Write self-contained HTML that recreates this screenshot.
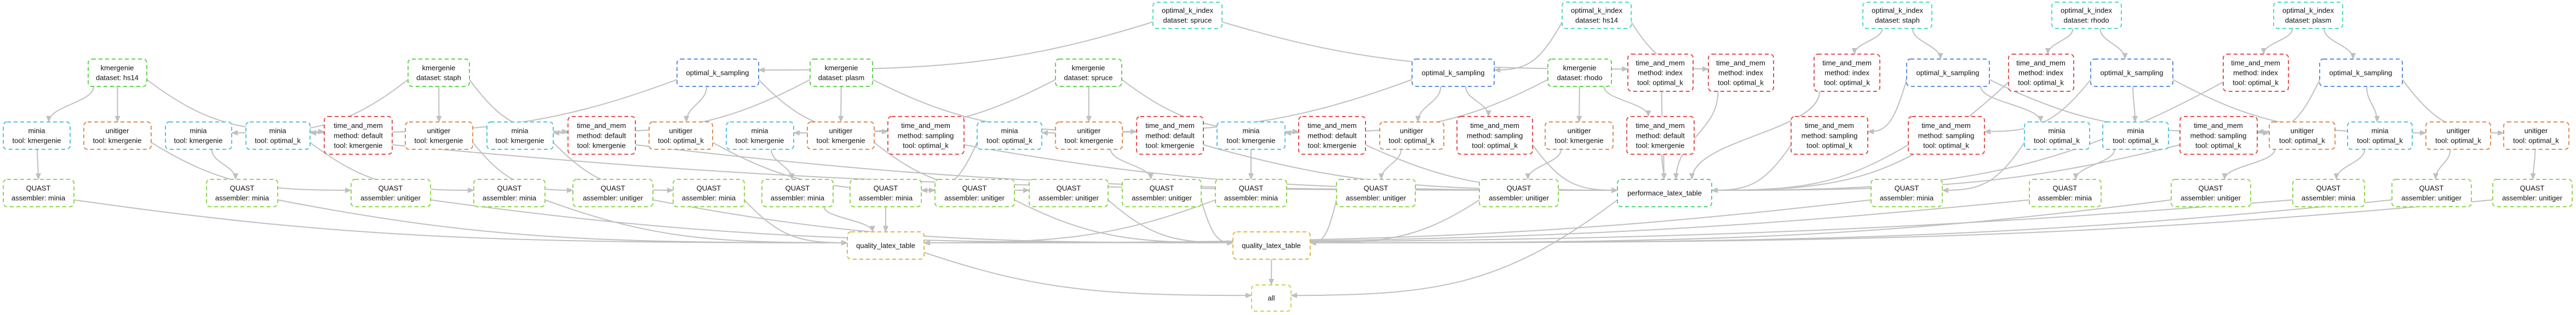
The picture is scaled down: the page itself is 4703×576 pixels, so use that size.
<!DOCTYPE html>
<html><head><meta charset="utf-8">
<style>
html,body{margin:0;padding:0;background:#fff;}
svg{display:block}
.n{fill:#fff;stroke-width:2;stroke-dasharray:7 5}
.idx{stroke:#52d9c0}.smp{stroke:#5b8ee0}.kmr{stroke:#5cd64a}.mia{stroke:#52c4e0}.uni{stroke:#e08d52}
.tam{stroke:#e05252}.qst{stroke:#8cd94a}.qlt{stroke:#dbb84a}.all{stroke:#c2d94a}.prf{stroke:#4ad97a}
text{font-family:"Liberation Sans",sans-serif;font-size:13px;text-anchor:middle;dominant-baseline:central;fill:#111}
#edges path{fill:none;stroke:#c0c0c0;stroke-width:2}
</style></head><body>
<svg id="s" width="4703" height="576" viewBox="0 0 4703 576" xmlns="http://www.w3.org/2000/svg">
<defs><marker id="ar" markerWidth="12" markerHeight="10" refX="11" refY="5" orient="auto" markerUnits="userSpaceOnUse"><path d="M0,0 L12,5 L0,10 z" fill="#c0c0c0"/></marker></defs>
<g id="edges"></g>
<g id="nodes">
<!-- Row A -->
<rect id="I1" class="n idx" x="2105" y="4" width="126" height="48" rx="7"/><text x="2168" y="19">optimal_k_index</text><text x="2168" y="37">dataset: spruce</text>
<rect id="I2" class="n idx" x="2852" y="4" width="126" height="48" rx="7"/><text x="2915" y="19">optimal_k_index</text><text x="2915" y="37">dataset: hs14</text>
<rect id="I3" class="n idx" x="3401" y="4" width="126" height="48" rx="7"/><text x="3464" y="19">optimal_k_index</text><text x="3464" y="37">dataset: staph</text>
<rect id="I4" class="n idx" x="3746" y="4" width="127" height="48" rx="7"/><text x="3809" y="19">optimal_k_index</text><text x="3809" y="37">dataset: rhodo</text>
<rect id="I5" class="n idx" x="4151" y="4" width="126" height="48" rx="7"/><text x="4214" y="19">optimal_k_index</text><text x="4214" y="37">dataset: plasm</text>
<!-- Row B -->
<rect id="K1" class="n kmr" x="161" y="108" width="107" height="50" rx="7"/><text x="214" y="124">kmergenie</text><text x="214" y="142">dataset: hs14</text>
<rect id="K2" class="n kmr" x="745" y="108" width="112" height="50" rx="7"/><text x="801" y="124">kmergenie</text><text x="801" y="142">dataset: staph</text>
<rect id="K3" class="n kmr" x="1479" y="108" width="114" height="50" rx="7"/><text x="1536" y="124">kmergenie</text><text x="1536" y="142">dataset: plasm</text>
<rect id="K4" class="n kmr" x="1927" y="108" width="121" height="50" rx="7"/><text x="1987" y="124">kmergenie</text><text x="1987" y="142">dataset: spruce</text>
<rect id="K5" class="n kmr" x="2826" y="108" width="116" height="50" rx="7"/><text x="2884" y="124">kmergenie</text><text x="2884" y="142">dataset: rhodo</text>
<rect id="S1" class="n smp" x="1236" y="108" width="149" height="50" rx="7"/><text x="1310" y="133">optimal_k_sampling</text>
<rect id="S2" class="n smp" x="2578" y="108" width="150" height="50" rx="7"/><text x="2653" y="133">optimal_k_sampling</text>
<rect id="S3" class="n smp" x="3481" y="108" width="151" height="50" rx="7"/><text x="3556" y="133">optimal_k_sampling</text>
<rect id="S4" class="n smp" x="3817" y="108" width="150" height="50" rx="7"/><text x="3892" y="133">optimal_k_sampling</text>
<rect id="S5" class="n smp" x="4235" y="108" width="151" height="50" rx="7"/><text x="4310" y="133">optimal_k_sampling</text>
<rect id="T1" class="n tam" x="2972" y="99" width="119" height="68" rx="7"/><text x="3031" y="115">time_and_mem</text><text x="3031" y="133">method: index</text><text x="3031" y="151">tool: optimal_k</text>
<rect id="T2" class="n tam" x="3119" y="99" width="119" height="68" rx="7"/><text x="3178" y="115">time_and_mem</text><text x="3178" y="133">method: index</text><text x="3178" y="151">tool: optimal_k</text>
<rect id="T3" class="n tam" x="3312" y="99" width="120" height="68" rx="7"/><text x="3372" y="115">time_and_mem</text><text x="3372" y="133">method: index</text><text x="3372" y="151">tool: optimal_k</text>
<rect id="T4" class="n tam" x="3667" y="99" width="119" height="68" rx="7"/><text x="3726" y="115">time_and_mem</text><text x="3726" y="133">method: index</text><text x="3726" y="151">tool: optimal_k</text>
<rect id="T5" class="n tam" x="4059" y="99" width="119" height="68" rx="7"/><text x="4118" y="115">time_and_mem</text><text x="4118" y="133">method: index</text><text x="4118" y="151">tool: optimal_k</text>
<!-- Row C -->
<rect id="C1" class="n mia" x="6" y="223" width="122" height="50" rx="7"/><text x="67" y="239">minia</text><text x="67" y="257">tool: kmergenie</text>
<rect id="C2" class="n uni" x="153" y="223" width="123" height="50" rx="7"/><text x="214" y="239">unitiger</text><text x="214" y="257">tool: kmergenie</text>
<rect id="C3" class="n mia" x="302" y="223" width="121" height="50" rx="7"/><text x="362" y="239">minia</text><text x="362" y="257">tool: kmergenie</text>
<rect id="C4" class="n mia" x="449" y="223" width="117" height="50" rx="7"/><text x="507" y="239">minia</text><text x="507" y="257">tool: optimal_k</text>
<rect id="C5" class="n tam" x="592" y="213" width="124" height="69" rx="7"/><text x="654" y="229.5">time_and_mem</text><text x="654" y="248">method: default</text><text x="654" y="266">tool: kmergenie</text>
<rect id="C6" class="n uni" x="740" y="223" width="123" height="50" rx="7"/><text x="801" y="239">unitiger</text><text x="801" y="257">tool: kmergenie</text>
<rect id="C7" class="n mia" x="889" y="223" width="121" height="50" rx="7"/><text x="949" y="239">minia</text><text x="949" y="257">tool: kmergenie</text>
<rect id="C8" class="n tam" x="1037" y="213" width="123" height="69" rx="7"/><text x="1098" y="229.5">time_and_mem</text><text x="1098" y="248">method: default</text><text x="1098" y="266">tool: kmergenie</text>
<rect id="C9" class="n uni" x="1185" y="223" width="116" height="50" rx="7"/><text x="1243" y="239">unitiger</text><text x="1243" y="257">tool: optimal_k</text>
<rect id="C10" class="n mia" x="1326" y="223" width="123" height="50" rx="7"/><text x="1387" y="239">minia</text><text x="1387" y="257">tool: kmergenie</text>
<rect id="C11" class="n uni" x="1474" y="223" width="122" height="50" rx="7"/><text x="1535" y="239">unitiger</text><text x="1535" y="257">tool: kmergenie</text>
<rect id="C12" class="n tam" x="1621" y="213" width="139" height="69" rx="7"/><text x="1690" y="229.5">time_and_mem</text><text x="1690" y="248">method: sampling</text><text x="1690" y="266">tool: optimal_k</text>
<rect id="C13" class="n mia" x="1784" y="223" width="118" height="50" rx="7"/><text x="1843" y="239">minia</text><text x="1843" y="257">tool: optimal_k</text>
<rect id="C14" class="n uni" x="1927" y="223" width="122" height="50" rx="7"/><text x="1988" y="239">unitiger</text><text x="1988" y="257">tool: kmergenie</text>
<rect id="C15" class="n tam" x="2075" y="213" width="122" height="69" rx="7"/><text x="2136" y="229.5">time_and_mem</text><text x="2136" y="248">method: default</text><text x="2136" y="266">tool: kmergenie</text>
<rect id="C16" class="n mia" x="2222" y="223" width="124" height="50" rx="7"/><text x="2284" y="239">minia</text><text x="2284" y="257">tool: kmergenie</text>
<rect id="C17" class="n tam" x="2371" y="213" width="122" height="69" rx="7"/><text x="2432" y="229.5">time_and_mem</text><text x="2432" y="248">method: default</text><text x="2432" y="266">tool: kmergenie</text>
<rect id="C18" class="n uni" x="2519" y="223" width="117" height="50" rx="7"/><text x="2577" y="239">unitiger</text><text x="2577" y="257">tool: optimal_k</text>
<rect id="C19" class="n tam" x="2660" y="213" width="138" height="69" rx="7"/><text x="2729" y="229.5">time_and_mem</text><text x="2729" y="248">method: sampling</text><text x="2729" y="266">tool: optimal_k</text>
<rect id="C20" class="n uni" x="2821" y="223" width="124" height="50" rx="7"/><text x="2883" y="239">unitiger</text><text x="2883" y="257">tool: kmergenie</text>
<rect id="C21" class="n tam" x="2970" y="213" width="123" height="69" rx="7"/><text x="3031" y="229.5">time_and_mem</text><text x="3031" y="248">method: default</text><text x="3031" y="266">tool: kmergenie</text>
<rect id="C22" class="n tam" x="3270" y="213" width="140" height="69" rx="7"/><text x="3340" y="229.5">time_and_mem</text><text x="3340" y="248">method: sampling</text><text x="3340" y="266">tool: optimal_k</text>
<rect id="C23" class="n tam" x="3484" y="213" width="139" height="69" rx="7"/><text x="3553" y="229.5">time_and_mem</text><text x="3553" y="248">method: sampling</text><text x="3553" y="266">tool: optimal_k</text>
<rect id="C24" class="n mia" x="3696" y="223" width="119" height="50" rx="7"/><text x="3755" y="239">minia</text><text x="3755" y="257">tool: optimal_k</text>
<rect id="C25" class="n mia" x="3839" y="223" width="120" height="50" rx="7"/><text x="3899" y="239">minia</text><text x="3899" y="257">tool: optimal_k</text>
<rect id="C26" class="n tam" x="3980" y="213" width="141" height="69" rx="7"/><text x="4050" y="229.5">time_and_mem</text><text x="4050" y="248">method: sampling</text><text x="4050" y="266">tool: optimal_k</text>
<rect id="C27" class="n uni" x="4143" y="223" width="120" height="50" rx="7"/><text x="4203" y="239">unitiger</text><text x="4203" y="257">tool: optimal_k</text>
<rect id="C28" class="n mia" x="4286" y="223" width="118" height="50" rx="7"/><text x="4345" y="239">minia</text><text x="4345" y="257">tool: optimal_k</text>
<rect id="C29" class="n uni" x="4429" y="223" width="118" height="50" rx="7"/><text x="4488" y="239">unitiger</text><text x="4488" y="257">tool: optimal_k</text>
<rect id="C30" class="n uni" x="4571" y="223" width="119" height="50" rx="7"/><text x="4630" y="239">unitiger</text><text x="4630" y="257">tool: optimal_k</text>
<!-- Row D -->
<rect id="Q1" class="n qst" x="6" y="328" width="129" height="50" rx="7"/><text x="70" y="344">QUAST</text><text x="70" y="362">assembler: minia</text>
<rect id="Q2" class="n qst" x="377" y="328" width="130" height="50" rx="7"/><text x="442" y="344">QUAST</text><text x="442" y="362">assembler: minia</text>
<rect id="Q3" class="n qst" x="641" y="328" width="145" height="50" rx="7"/><text x="713" y="344">QUAST</text><text x="713" y="362">assembler: unitiger</text>
<rect id="Q4" class="n qst" x="865" y="328" width="130" height="50" rx="7"/><text x="930" y="344">QUAST</text><text x="930" y="362">assembler: minia</text>
<rect id="Q5" class="n qst" x="1046" y="328" width="146" height="50" rx="7"/><text x="1119" y="344">QUAST</text><text x="1119" y="362">assembler: unitiger</text>
<rect id="Q6" class="n qst" x="1229" y="328" width="130" height="50" rx="7"/><text x="1294" y="344">QUAST</text><text x="1294" y="362">assembler: minia</text>
<rect id="Q7" class="n qst" x="1391" y="328" width="130" height="50" rx="7"/><text x="1456" y="344">QUAST</text><text x="1456" y="362">assembler: minia</text>
<rect id="Q8" class="n qst" x="1552" y="328" width="130" height="50" rx="7"/><text x="1617" y="344">QUAST</text><text x="1617" y="362">assembler: minia</text>
<rect id="Q9" class="n qst" x="1707" y="328" width="145" height="50" rx="7"/><text x="1779" y="344">QUAST</text><text x="1779" y="362">assembler: unitiger</text>
<rect id="Q10" class="n qst" x="1879" y="328" width="144" height="50" rx="7"/><text x="1951" y="344">QUAST</text><text x="1951" y="362">assembler: unitiger</text>
<rect id="Q11" class="n qst" x="2049" y="328" width="144" height="50" rx="7"/><text x="2121" y="344">QUAST</text><text x="2121" y="362">assembler: unitiger</text>
<rect id="Q12" class="n qst" x="2219" y="328" width="130" height="50" rx="7"/><text x="2284" y="344">QUAST</text><text x="2284" y="362">assembler: minia</text>
<rect id="Q13" class="n qst" x="2440" y="328" width="144" height="50" rx="7"/><text x="2512" y="344">QUAST</text><text x="2512" y="362">assembler: unitiger</text>
<rect id="Q14" class="n qst" x="2701" y="328" width="144" height="50" rx="7"/><text x="2773" y="344">QUAST</text><text x="2773" y="362">assembler: unitiger</text>
<rect id="P" class="n prf" x="2953" y="328" width="172" height="50" rx="7"/><text x="3039" y="353">performace_latex_table</text>
<rect id="Q15" class="n qst" x="3416" y="328" width="130" height="50" rx="7"/><text x="3481" y="344">QUAST</text><text x="3481" y="362">assembler: minia</text>
<rect id="Q16" class="n qst" x="3705" y="328" width="131" height="50" rx="7"/><text x="3770" y="344">QUAST</text><text x="3770" y="362">assembler: minia</text>
<rect id="Q17" class="n qst" x="3964" y="328" width="145" height="50" rx="7"/><text x="4036" y="344">QUAST</text><text x="4036" y="362">assembler: unitiger</text>
<rect id="Q18" class="n qst" x="4186" y="328" width="131" height="50" rx="7"/><text x="4251" y="344">QUAST</text><text x="4251" y="362">assembler: minia</text>
<rect id="Q19" class="n qst" x="4367" y="328" width="145" height="50" rx="7"/><text x="4439" y="344">QUAST</text><text x="4439" y="362">assembler: unitiger</text>
<rect id="Q20" class="n qst" x="4551" y="328" width="145" height="50" rx="7"/><text x="4623" y="344">QUAST</text><text x="4623" y="362">assembler: unitiger</text>
<!-- Row E/F -->
<rect id="L1" class="n qlt" x="1547" y="424" width="140" height="50" rx="7"/><text x="1617" y="449">quality_latex_table</text>
<rect id="L2" class="n qlt" x="2251" y="424" width="141" height="50" rx="7"/><text x="2321" y="449">quality_latex_table</text>
<rect id="ALL" class="n all" x="2285" y="521" width="72" height="48" rx="7"/><text x="2321" y="545">all</text>
</g>
</svg>
<script>
(function(){
var E=[
["I1","S1"],["I1","T1"],["I2","S2"],["I2","T2"],["I3","T3"],["I3","S3"],["I4","T4"],["I4","S4"],["I5","T5"],["I5","S5"],
["S1","C4"],["S1","C9"],["S1","C12"],["S2","C13"],["S2","C18"],["S2","C19"],["S3","C22"],["S3","C24"],["S3","C27"],
["S4","C23"],["S4","C25"],["S4","C29"],["S5","C26"],["S5","C28"],["S5","C30"],
["K1","C1"],["K1","C2"],["K1","C5"],["K2","C3"],["K2","C6"],["K2","C8"],["K3","C7"],["K3","C11"],["K3","C15"],
["K4","C10"],["K4","C14"],["K4","C17"],["K5","C16"],["K5","C20"],["K5","C21"],
["C1","Q1"],["C2","Q3"],["C3","Q2"],["C4","Q4"],["C6","Q5"],["C7","Q6"],["C9","Q9"],["C10","Q7"],["C11","Q10"],
["C13","Q8"],["C14","Q11"],["C16","Q12"],["C18","Q13"],["C20","Q14"],["C24","Q15"],["C25","Q16"],["C27","Q17"],
["C28","Q18"],["C29","Q19"],["C30","Q20"],
["C5","P"],["C8","P"],["C12","P"],["C15","P"],["C17","P"],["C19","P"],["C21","P"],["C22","P"],["C23","P"],["C26","P"],
["T1","P"],["T2","P"],["T3","P"],["T4","P"],["T5","P"],
["Q1","L1"],["Q2","L1"],["Q4","L1"],["Q6","L1"],["Q7","L1"],["Q8","L1"],["Q12","L1"],["Q15","L1"],["Q16","L1"],["Q18","L1"],
["Q3","L2"],["Q5","L2"],["Q9","L2"],["Q10","L2"],["Q11","L2"],["Q13","L2"],["Q14","L2"],["Q17","L2"],["Q19","L2"],["Q20","L2"],
["L1","ALL"],["L2","ALL"],["P","ALL"]];
function R(id){var r=document.getElementById(id);return {x:+r.getAttribute("x"),y:+r.getAttribute("y"),w:+r.getAttribute("width"),h:+r.getAttribute("height")};}
function cl(v,a,b){return Math.max(a,Math.min(b,v));}
var g=document.getElementById("edges"),ns="http://www.w3.org/2000/svg",out="";
E.forEach(function(e){
 var a=R(e[0]),b=R(e[1]);
 var acx=a.x+a.w/2,bcx=b.x+b.w/2,gap=b.y-(a.y+a.h),dx=bcx-acx,d;
 if(Math.abs(dx)>2.5*Math.max(gap,20)+a.w/2){
  var sx=dx>0?a.x+a.w:a.x, sy=a.y+a.h*0.75;
  var tx=dx>0?b.x:b.x+b.w, ty=b.y+b.h*0.4;
  var ddx=tx-sx;
  d="M"+sx+","+sy+" C"+(sx+ddx*0.35)+","+(sy+(ty-sy)*0.9)+" "+(tx-ddx*0.45)+","+ty+" "+tx+","+ty;
 }else{
  var sx=cl(acx+dx*0.3,a.x+10,a.x+a.w-10),sy=a.y+a.h;
  var tx=cl(bcx-dx*0.15,b.x+10,b.x+b.w-10),ty=b.y;
  var dy=ty-sy;
  d="M"+sx+","+sy+" C"+sx+","+(sy+dy*0.45)+" "+tx+","+(ty-dy*0.45)+" "+tx+","+ty;
 }
 out+='<path d="'+d+'" marker-end="url(#ar)"/>';
});
g.innerHTML=out;
})();
</script>
</body></html>
